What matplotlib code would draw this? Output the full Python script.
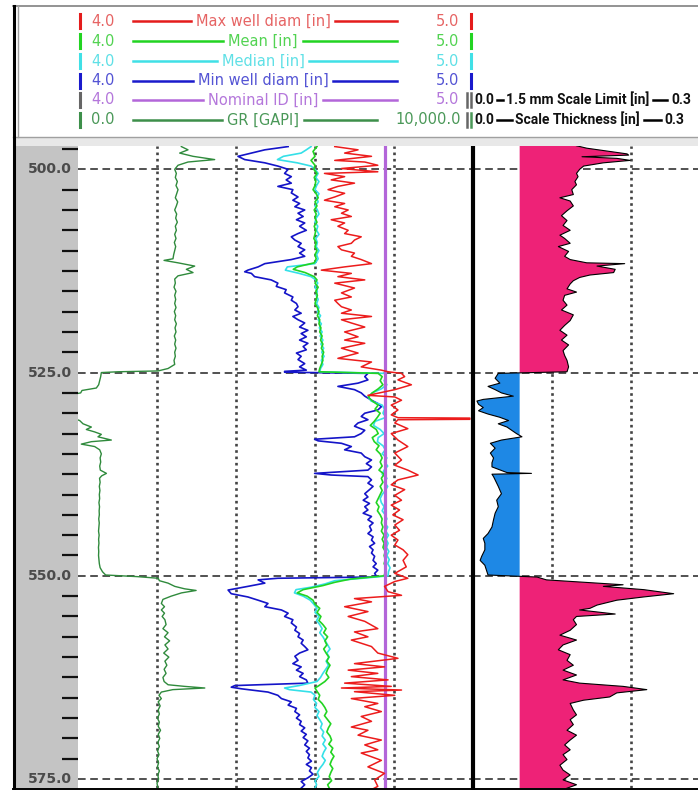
import numpy as np
import matplotlib.pyplot as plt

# ---- curve data (depth, value) ----
max_diam = [(497.2,4.650),(497.6,4.709),(498.0,4.675),(498.4,4.743),(498.9,4.650),(499.1,4.726),(499.5,4.759),(499.9,4.667),
    (500.3,4.759),(500.5,4.624),(500.9,4.675),(501.3,4.641),(501.7,4.700),(502.1,4.658),(502.5,4.633),(502.95,4.675),(503.4,4.650),
    (503.8,4.624),(504.2,4.675),(504.6,4.650),(505.0,4.684),(505.4,4.667),(505.8,4.692),(506.2,4.641),(506.6,4.675),(507.0,4.658),
    (507.5,4.684),(507.9,4.675),(508.3,4.717),(508.7,4.700),(509.1,4.692),(509.5,4.658),(509.9,4.667),(510.3,4.700),(510.7,4.692),
    (511.1,4.717),(511.6,4.743),(512.0,4.675),(512.4,4.616),(512.8,4.692),(513.2,4.658),(513.6,4.726),(514.0,4.650),(514.6,4.700),
    (515.2,4.667),(515.7,4.692),(516.1,4.650),(516.5,4.658),(516.9,4.667),(517.3,4.692),(517.7,4.667),(518.1,4.743),(518.5,4.667),
    (518.9,4.692),(519.4,4.726),(520.0,4.675),(520.6,4.709),(521.0,4.675),(521.4,4.726),(522.0,4.667),(522.6,4.709),(523.25,4.658),
    (523.7,4.743),(524.3,4.717),(524.7,4.768),(524.9,4.785),(525.1,4.819),(525.5,4.827),(525.9,4.810),(526.5,4.844),(527.1,4.802),
    (527.8,4.734),(528.0,4.802),(528.4,4.819),(529.0,4.793),(529.6,4.810),(530.2,4.793),(530.55,4.810),(530.6,4.992),(530.75,4.992),
    (530.8,4.810),(531.2,4.802),(531.9,4.835),(532.5,4.793),(533.3,4.810),(534.1,4.835),(534.9,4.802),(535.75,4.819),(536.4,4.802),
    (537.0,4.835),(537.6,4.861),(538.2,4.810),(538.8,4.793),(539.4,4.827),(540.1,4.802),(540.7,4.819),(541.3,4.793),(541.9,4.814),
    (542.5,4.797),(543.1,4.823),(543.75,4.802),(544.4,4.814),(545.0,4.793),(545.6,4.810),(546.2,4.802),(546.8,4.823),(547.4,4.835),
    (548.1,4.823),(548.9,4.831),(549.7,4.802),(550.3,4.835),(550.7,4.802),(551.3,4.776),(551.95,4.785),(552.4,4.819),(552.8,4.700),
    (553.2,4.743),(553.8,4.675),(554.4,4.734),(555.0,4.684),(555.6,4.726),(556.5,4.759),(556.9,4.700),(557.5,4.734),(557.9,4.692),
    (558.7,4.743),(559.5,4.759),(560.15,4.810),(560.8,4.700),(561.2,4.776),(561.6,4.684),(562.0,4.759),(562.4,4.692),(562.8,4.785),
    (563.2,4.675),(563.6,4.793),(563.8,4.667),(564.05,4.819),(564.25,4.700),(564.7,4.802),(565.1,4.692),(565.7,4.759),(566.1,4.726),
    (566.7,4.768),(567.3,4.717),(567.9,4.743),(568.6,4.692),(569.0,4.734),(569.6,4.709),(570.2,4.768),(570.8,4.726),(571.4,4.759),
    (571.8,4.717),(572.7,4.768),(573.5,4.734),(574.3,4.776),(575.1,4.751),(575.9,4.759),(576.3,4.743)]

mean_diam = [(497.2,4.605),(497.8,4.595),(498.4,4.600),(498.9,4.590),(499.5,4.600),(500.0,4.597),(500.5,4.605),(501.0,4.598),
    (501.5,4.602),(502.0,4.600),(502.5,4.595),(503.0,4.603),(503.5,4.608),(504.0,4.600),(504.5,4.605),(505.0,4.598),(505.5,4.603),
    (506.0,4.600),(506.5,4.605),(507.0,4.598),(507.5,4.602),(508.0,4.600),(508.5,4.597),(509.0,4.603),(509.5,4.600),(510.0,4.605),
    (510.5,4.600),(511.0,4.603),(511.5,4.598),(512.0,4.555),(512.3,4.545),(512.7,4.575),(513.2,4.598),(513.6,4.605),(514.0,4.600),
    (514.5,4.608),(515.0,4.602),(515.5,4.606),(516.0,4.603),(516.5,4.600),(517.0,4.606),(517.5,4.610),(518.0,4.606),(518.5,4.612),
    (519.0,4.610),(519.5,4.615),(520.0,4.612),(520.5,4.618),(521.0,4.614),(521.5,4.620),(522.0,4.616),(522.5,4.622),(523.0,4.618),
    (523.5,4.620),(524.0,4.616),(524.5,4.612),(524.9,4.610),(525.1,4.760),(525.5,4.770),(526.0,4.765),(526.5,4.772),(527.0,4.760),
    (527.5,4.745),(528.0,4.735),(528.5,4.745),(529.0,4.760),(529.5,4.752),(530.0,4.765),(530.5,4.758),(531.0,4.750),(531.5,4.740),
    (532.0,4.755),(532.5,4.760),(533.0,4.745),(533.5,4.750),(534.0,4.762),(534.5,4.755),(535.0,4.765),(535.5,4.770),(536.0,4.765),
    (536.5,4.770),(537.0,4.762),(537.5,4.775),(538.0,4.768),(538.5,4.772),(539.0,4.765),(539.5,4.770),(540.0,4.765),(540.5,4.760),
    (541.0,4.755),(541.5,4.762),(542.0,4.758),(542.5,4.765),(543.0,4.770),(543.5,4.768),(544.0,4.772),(544.5,4.768),(545.0,4.775),
    (545.5,4.770),(546.0,4.775),(546.5,4.772),(547.0,4.778),(547.5,4.775),(548.0,4.778),(548.5,4.775),(549.0,4.780),(549.5,4.778),
    (550.0,4.775),(550.4,4.690),(550.8,4.650),(551.2,4.620),(551.7,4.570),(552.1,4.555),(552.5,4.580),(553.0,4.595),(553.5,4.600),
    (554.0,4.612),(554.5,4.605),(555.0,4.615),(555.5,4.610),(556.0,4.620),(556.5,4.628),(557.0,4.622),(557.5,4.632),(558.0,4.625),
    (558.5,4.630),(559.0,4.622),(559.5,4.628),(560.0,4.635),(560.5,4.630),(561.0,4.638),(561.5,4.632),(562.0,4.628),(562.5,4.635),
    (563.0,4.625),(563.5,4.610),(563.8,4.600),(564.2,4.605),(564.7,4.612),(565.2,4.608),(565.7,4.618),(566.2,4.625),(566.7,4.630),
    (567.2,4.624),(567.7,4.632),(568.2,4.640),(568.7,4.634),(569.2,4.630),(569.7,4.638),(570.2,4.642),(570.7,4.635),(571.2,4.645),
    (571.7,4.640),(572.2,4.648),(572.7,4.642),(573.2,4.638),(573.7,4.645),(574.2,4.640),(574.7,4.636),(575.2,4.642),(575.7,4.632),
    (576.3,4.638)]

median_diam = [(497.2,4.590),(497.6,4.578),(498.0,4.565),(498.4,4.520),(498.8,4.505),(499.2,4.555),(499.6,4.590),(500.0,4.600),
    (500.5,4.608),(501.0,4.602),(501.5,4.610),(502.0,4.604),(502.5,4.600),(503.0,4.610),(503.5,4.604),(504.0,4.608),(504.5,4.600),
    (505.0,4.606),(505.5,4.610),(506.0,4.603),(506.5,4.600),(507.0,4.607),(507.5,4.604),(508.0,4.610),(508.5,4.602),(509.0,4.606),
    (509.5,4.603),(510.0,4.610),(510.5,4.604),(511.0,4.608),(511.6,4.600),(512.0,4.530),(512.4,4.525),(512.8,4.560),(513.2,4.590),
    (513.6,4.602),(514.0,4.607),(514.5,4.600),(515.0,4.606),(515.5,4.603),(516.0,4.608),(516.5,4.604),(517.0,4.610),(517.5,4.606),
    (518.0,4.614),(518.5,4.608),(519.0,4.616),(519.5,4.611),(520.0,4.618),(520.5,4.613),(521.0,4.620),(521.5,4.615),(522.0,4.622),
    (522.5,4.617),(523.0,4.623),(523.5,4.616),(524.0,4.620),(524.5,4.614),(524.9,4.612),(525.1,4.776),(525.5,4.780),(526.0,4.775),
    (526.5,4.782),(527.0,4.768),(527.5,4.745),(528.0,4.735),(528.5,4.742),(529.0,4.770),(529.5,4.776),(530.0,4.772),(530.5,4.780),
    (531.0,4.752),(531.5,4.748),(532.0,4.765),(532.5,4.775),(533.0,4.760),(533.5,4.758),(534.0,4.772),(534.5,4.778),(535.0,4.770),
    (535.5,4.782),(536.0,4.776),(536.5,4.784),(537.0,4.775),(537.5,4.770),(538.0,4.782),(538.5,4.776),(539.0,4.784),(539.5,4.778),
    (540.0,4.770),(540.5,4.765),(541.0,4.768),(541.5,4.775),(542.0,4.770),(542.5,4.778),(543.0,4.782),(543.5,4.776),(544.0,4.784),
    (544.5,4.779),(545.0,4.786),(545.5,4.780),(546.0,4.785),(546.5,4.781),(547.0,4.787),(547.5,4.782),(548.0,4.788),(548.5,4.784),
    (549.0,4.790),(549.5,4.786),(550.0,4.785),(550.3,4.720),(550.6,4.650),(551.0,4.625),(551.4,4.590),(551.7,4.552),(552.1,4.548),
    (552.5,4.570),(553.0,4.588),(553.5,4.597),(554.0,4.605),(554.5,4.600),(555.0,4.610),(555.5,4.604),(556.0,4.612),(556.5,4.618),
    (557.0,4.612),(557.5,4.620),(558.0,4.626),(558.5,4.632),(559.0,4.638),(559.5,4.630),(560.0,4.636),(560.5,4.628),(561.0,4.634),
    (561.5,4.627),(562.0,4.620),(562.5,4.614),(563.0,4.605),(563.5,4.560),(563.8,4.523),(564.0,4.535),(564.3,4.590),(564.7,4.600),
    (565.2,4.596),(565.7,4.604),(566.2,4.600),(566.7,4.610),(567.2,4.605),(567.7,4.612),(568.2,4.618),(568.7,4.614),(569.2,4.622),
    (569.7,4.618),(570.2,4.626),(570.7,4.620),(571.2,4.628),(571.7,4.622),(572.2,4.618),(572.7,4.626),(573.2,4.620),(573.7,4.612),
    (574.2,4.606),(574.7,4.610),(575.2,4.600),(575.7,4.604),(576.3,4.598)]

min_diam = [(497.2,4.532),(497.6,4.473),(498.0,4.439),(498.4,4.405),(498.8,4.422),(499.2,4.473),(499.6,4.506),(500.0,4.532),
    (500.5,4.523),(500.9,4.540),(501.3,4.527),(501.7,4.540),(502.1,4.506),(502.5,4.544),(502.9,4.540),(503.4,4.557),(503.8,4.544),
    (504.2,4.561),(504.6,4.549),(505.0,4.574),(505.4,4.557),(505.8,4.570),(506.2,4.553),(506.6,4.574),(507.0,4.561),(507.5,4.578),
    (507.9,4.557),(508.3,4.540),(508.7,4.549),(509.1,4.565),(509.5,4.557),(509.9,4.574),(510.3,4.561),(510.7,4.574),(511.1,4.540),
    (511.6,4.473),(512.0,4.456),(512.4,4.430),(512.6,4.422),(512.8,4.439),(513.2,4.447),(513.6,4.489),(514.0,4.506),(514.4,4.502),
    (514.8,4.527),(515.2,4.523),(515.7,4.544),(516.1,4.540),(516.5,4.553),(516.9,4.557),(517.3,4.549),(517.7,4.565),(518.1,4.544),
    (518.5,4.557),(518.9,4.574),(519.4,4.561),(519.8,4.582),(520.2,4.565),(520.6,4.578),(521.0,4.561),(521.4,4.582),(521.8,4.570),
    (522.2,4.578),(522.6,4.553),(523.0,4.565),(523.4,4.557),(523.9,4.574),(524.3,4.561),(524.7,4.578),(524.85,4.523),(524.95,4.523),
    (525.1,4.734),(525.5,4.726),(525.9,4.734),(526.3,4.709),(526.7,4.658),(527.1,4.700),(527.5,4.717),(527.9,4.726),(528.4,4.743),
    (528.8,4.759),(529.2,4.768),(529.6,4.759),(530.0,4.726),(530.4,4.717),(530.8,4.734),(531.2,4.709),(531.6,4.700),(532.1,4.726),
    (532.5,4.717),(532.9,4.700),(533.2,4.599),(533.4,4.608),(533.7,4.667),(534.1,4.692),(534.5,4.675),(534.9,4.717),(535.35,4.726),
    (535.75,4.743),(536.2,4.730),(536.6,4.743),(537.0,4.734),(537.4,4.599),(537.6,4.641),(537.8,4.734),(538.2,4.743),(538.6,4.734),
    (539.0,4.747),(539.4,4.738),(539.9,4.726),(540.3,4.734),(540.7,4.722),(541.1,4.738),(541.5,4.726),(541.9,4.734),(542.3,4.722),
    (542.7,4.743),(543.1,4.734),(543.5,4.747),(543.9,4.738),(544.4,4.743),(544.8,4.734),(545.2,4.747),(545.6,4.743),(546.0,4.751),
    (546.4,4.738),(546.8,4.747),(547.2,4.743),(547.6,4.751),(548.1,4.747),(548.5,4.755),(548.9,4.747),(549.3,4.759),(549.7,4.751),
    (550.0,4.755),(550.15,4.743),(550.3,4.506),(550.5,4.456),(550.9,4.473),(551.3,4.430),(551.75,4.380),(552.2,4.388),(552.6,4.430),
    (553.0,4.456),(553.4,4.481),(553.8,4.473),(554.2,4.515),(554.6,4.532),(555.0,4.523),(555.4,4.544),(555.8,4.540),(556.3,4.553),
    (556.7,4.549),(557.1,4.561),(557.5,4.557),(557.9,4.570),(558.3,4.565),(558.7,4.574),(559.1,4.582),(559.5,4.561),(559.9,4.549),
    (560.4,4.557),(560.8,4.544),(561.2,4.565),(561.6,4.553),(562.0,4.570),(562.4,4.561),(562.8,4.578),(563.2,4.582),(563.5,4.397),
    (563.7,4.388),(563.9,4.414),(564.3,4.481),(564.7,4.506),(565.1,4.515),(565.5,4.540),(565.9,4.532),(566.3,4.553),(566.7,4.549),
    (567.1,4.561),(567.5,4.553),(567.9,4.565),(568.3,4.561),(568.7,4.574),(569.1,4.565),(569.5,4.578),(569.9,4.570),(570.3,4.582),
    (570.8,4.574),(571.2,4.586),(571.6,4.578),(572.0,4.586),(572.4,4.582),(572.8,4.591),(573.2,4.578),(573.6,4.591),(574.0,4.586),
    (574.4,4.595),(574.85,4.582),(575.3,4.565),(575.7,4.574),(576.3,4.561)]

gr = [(497.2,2616),(497.6,2785),(498.0,2574),(498.4,2912),(498.8,3460),(499.1,2785),(499.5,2532),(500.0,2448),(500.5,2490),
    (501.0,2464),(501.5,2515),(502.0,2481),(502.5,2532),(503.0,2498),(503.5,2464),(504.0,2524),(504.5,2490),(505.0,2448),(505.5,2498),
    (506.0,2473),(506.5,2515),(507.0,2464),(507.5,2490),(508.0,2448),(508.5,2481),(509.0,2439),(509.5,2473),(510.0,2448),(510.5,2422),
    (511.0,2405),(511.2,2178),(511.5,2532),(511.9,2954),(512.3,2743),(512.7,2912),(513.1,2532),(513.5,2448),(514.0,2464),(514.5,2431),
    (515.0,2481),(515.5,2448),(516.0,2473),(516.5,2448),(517.0,2481),(517.5,2439),(518.0,2473),(518.5,2448),(519.0,2490),(519.5,2456),
    (520.0,2481),(520.5,2439),(521.0,2473),(521.5,2448),(522.0,2481),(522.5,2448),(523.0,2464),(523.5,2431),(524.0,2448),(524.5,2279),
    (524.8,2026),(524.9,1013),(525.0,591),(525.5,574),(526.0,549),(526.5,523),(526.9,464),(527.2,101),(527.5,68),(527.8,-250),
    (528.5,-300),(529.5,-300),(530.4,-250),(530.9,42),(531.3,127),(531.7,338),(532.0,211),(532.3,422),(532.6,591),(532.9,506),
    (533.3,844),(533.5,338),(533.8,84),(534.1,422),(534.5,549),(535.0,591),(535.5,560),(536.0,575),(536.5,550),(537.0,565),
    (537.4,720),(537.7,600),(538.0,545),(538.5,560),(539.0,540),(539.5,555),(540.0,540),(540.5,548),(541.0,530),(541.5,545),
    (542.0,535),(542.5,540),(543.0,525),(543.5,538),(544.0,530),(544.5,520),(545.0,535),(545.5,522),(546.0,530),(546.5,518),
    (547.0,525),(547.5,520),(548.0,530),(548.5,540),(549.0,560),(549.5,620),(549.9,700),(550.1,1500),(550.3,2030),(550.6,2060),
    (550.9,2280),(551.3,2450),(551.6,2700),(551.8,2990),(552.1,2620),(552.5,2360),(552.9,2150),(553.4,2110),(553.8,2190),(554.2,2110),
    (554.6,2190),(555.0,2130),(555.4,2200),(556.0,2230),(556.5,2150),(557.0,2280),(557.5,2190),(558.0,2320),(558.5,2200),(559.0,2280),
    (559.5,2170),(560.0,2300),(560.5,2200),(561.0,2250),(561.5,2180),(562.0,2230),(562.5,2150),(563.0,2180),(563.4,2280),(563.6,2700),
    (563.8,3210),(564.0,2400),(564.3,2110),(564.7,2050),(565.1,2110),(565.5,2030),(566.0,2080),(566.5,2030),(567.0,2060),(567.5,2010),
    (568.0,2060),(568.5,2030),(569.0,2090),(569.5,2030),(570.0,2070),(570.5,2020),(571.0,2060),(571.5,2010),(572.0,2050),(572.5,2000),
    (573.0,2040),(573.5,2010),(574.0,2060),(574.5,2020),(575.0,2040),(575.5,2000),(576.3,2030)]

thickness = [(497.1,0.131),(497.4,0.144),(497.8,0.173),(498.1,0.195),(498.25,0.197),(498.45,0.138),(498.65,0.182),(498.9,0.199),
    (499.2,0.165),(499.6,0.140),(500.0,0.135),(500.5,0.131),(500.9,0.133),(501.5,0.129),(501.9,0.131),(502.5,0.125),(503.1,0.127),
    (503.5,0.110),(503.9,0.123),(504.5,0.127),(505.1,0.119),(505.7,0.112),(506.3,0.119),(506.9,0.114),(507.5,0.123),(508.1,0.110),
    (508.5,0.116),(509.1,0.123),(509.5,0.108),(510.1,0.121),(510.7,0.116),(511.1,0.123),(511.5,0.144),(511.6,0.192),(511.9,0.157),
    (512.3,0.180),(512.7,0.178),(513.0,0.148),(513.3,0.135),(513.7,0.127),(514.1,0.123),(514.7,0.119),(515.1,0.131),(515.5,0.116),
    (516.1,0.114),(516.7,0.119),(517.3,0.112),(517.9,0.127),(518.6,0.123),(519.2,0.116),(519.8,0.110),(520.4,0.119),(521.0,0.112),
    (521.6,0.121),(522.3,0.114),(522.9,0.116),(523.5,0.119),(524.3,0.121),(524.9,0.119),(525.1,0.032),(525.7,0.028),(526.3,0.034),
    (526.7,0.019),(527.1,0.028),(527.5,0.036),(527.9,0.051),(528.3,0.013),(528.5,0.005),(528.9,0.007),(529.3,0.013),(529.7,0.007),
    (530.1,0.019),(530.5,0.034),(530.9,0.045),(531.3,0.032),(531.7,0.043),(532.1,0.049),(532.5,0.055),(532.9,0.062),(533.3,0.036),
    (533.7,0.022),(534.3,0.028),(534.9,0.022),(535.5,0.026),(536.1,0.024),(536.6,0.024),(537.3,0.043),(537.4,0.074),(537.5,0.024),
    (537.8,0.026),(538.2,0.028),(539.0,0.032),(539.9,0.036),(540.7,0.030),(541.5,0.032),(542.3,0.028),(543.1,0.026),(544.0,0.024),
    (544.8,0.019),(545.4,0.013),(546.0,0.015),(546.8,0.015),(547.6,0.011),(548.1,0.009),(548.7,0.015),(549.3,0.017),(549.9,0.019),
    (550.15,0.081),(550.5,0.093),(550.9,0.157),(551.1,0.190),(551.3,0.165),(551.7,0.216),(552.2,0.254),(552.6,0.216),(553.0,0.182),
    (553.6,0.157),(554.0,0.148),(554.2,0.135),(554.7,0.180),(555.0,0.131),(555.4,0.127),(556.0,0.131),(556.7,0.123),(557.3,0.110),
    (557.9,0.131),(558.5,0.114),(559.1,0.108),(559.7,0.123),(560.4,0.119),(561.0,0.127),(561.6,0.114),(562.2,0.131),(562.8,0.114),
    (563.2,0.135),(563.6,0.190),(564.0,0.220),(564.4,0.182),(564.9,0.173),(565.3,0.140),(565.7,0.123),(566.5,0.127),(567.1,0.131),
    (567.7,0.123),(568.3,0.127),(569.0,0.119),(569.6,0.131),(570.2,0.123),(570.8,0.116),(571.4,0.123),(572.0,0.114),(572.6,0.119),
    (573.3,0.110),(573.9,0.114),(574.5,0.123),(575.1,0.114),(575.7,0.131),(576.3,0.114)]

nominal_id = 4.778            # in
scale_limit = 1.5 / 25.4      # 1.5 mm in inches

label_depths = [500.0, 525.0, 550.0, 575.0]

# header legend texts
names = ['Max well diam [in]', 'Mean [in]', 'Median [in]', 'Min well diam [in]', 'Nominal ID [in]', 'GR [GAPI]']
left_vals = ['4.0', '4.0', '4.0', '4.0', '4.0', '0.0']
right_vals = ['5.0', '5.0', '5.0', '5.0', '5.0', '10,000.0']
line_cols = ['#e41c1c', '#22d422', '#40e0e6', '#1a1acc', '#b366d9', '#3d8f4a']
text_cols = ['#e66464', '#52d352', '#5fe0e6', '#5454d4', '#b477db', '#4a9858']
t2_names = ['1.5 mm Scale Limit [in]', 'Scale Thickness [in]']
t2_left = ['0.0', '0.0']
t2_right = ['0.3', '0.3']

W, H = 698, 790
top_d, bot_d = 497.13, 576.1

fig = plt.figure(figsize=(W / 100, H / 100), dpi=100)


def px_axes(x0, y0, x1, y1):
    return fig.add_axes([x0 / W, 1 - y1 / H, (x1 - x0) / W, (y1 - y0) / H])


def unpack(pairs):
    a = np.array(pairs, dtype=float)
    return a[:, 0], a[:, 1]


dash = (0, (5, 3))
dots = (0, (1, 1.4))

# depth column
axd = px_axes(14, 146, 78, 788)
axd.set_facecolor('#c4c4c4')
axd.set_xlim(0, 1)
axd.set_ylim(bot_d, top_d)
minor = [d for d in np.arange(497.5, 576, 2.5) if d % 25]
axd.set_yticks(minor)
axd.set_xticks([])
axd.tick_params(axis='y', left=False, right=True, direction='in', length=11.5, width=1.6,
                color='#111111', labelleft=False)
for s in axd.spines.values():
    s.set_visible(False)
for d in label_depths:
    axd.text(0.91, d, f'{d:.1f}', ha='right', va='center', fontsize=10, fontweight='bold',
             color='#4b4b4b')

# track 1 - diameters
ax1 = px_axes(78, 146, 473, 788)
ax1.set_xlim(4.0, 5.0)
ax1.set_ylim(bot_d, top_d)
ax1.set_xticks([])
ax1.set_yticks([])
for s in ax1.spines.values():
    s.set_visible(False)
for x in [4.2, 4.4, 4.6, 4.8]:
    ax1.axvline(x, color='#444444', lw=1.9, ls=dots, zorder=1)
for d in label_depths:
    ax1.axhline(d, color='#222222', lw=1.1, ls=dash, zorder=1)

d, v = unpack(min_diam)
ax1.plot(v, d, color='#1414c8', lw=1.2, zorder=3)
d, v = unpack(median_diam)
ax1.plot(v, d, color='#35e0e8', lw=1.2, zorder=3)
d, v = unpack(mean_diam)
ax1.plot(v, d, color='#22d422', lw=1.2, zorder=3)
ax1.axvline(nominal_id, color='#b366d9', lw=2.3, zorder=4)
d, v = unpack(max_diam)
ax1.plot(v, d, color='#ec1c1c', lw=1.1, zorder=5)

axg = ax1.twiny()
axg.set_xlim(0, 10000)
axg.axis('off')
d, v = unpack(gr)
axg.plot(v, d, color='#2f8a3c', lw=1.0)

# track 2 - scale thickness (runs past the right edge of the picture)
ax2 = px_axes(473, 146, 710, 788)
ax2.set_xlim(0, 0.3)
ax2.set_ylim(bot_d, top_d)
ax2.set_xticks([])
ax2.set_yticks([])
for k, s in ax2.spines.items():
    s.set_visible(k == 'left')
ax2.spines['left'].set_linewidth(3.0)
ax2.spines['left'].set_color('black')
ax2.spines['left'].set_zorder(6)
for x in [0.1, 0.2]:
    ax2.axvline(x, color='#444444', lw=1.9, ls=dots, zorder=1)
for dd in label_depths:
    ax2.axhline(dd, color='#222222', lw=1.1, ls=dash, zorder=1)
d, v = unpack(thickness)
ax2.fill_betweenx(d, scale_limit, v, where=v >= scale_limit, interpolate=True,
                  color='#ee2277', lw=0, zorder=2)
ax2.fill_betweenx(d, scale_limit, v, where=v <= scale_limit, interpolate=True,
                  color='#1e88e5', lw=0, zorder=2)
ax2.plot(v, d, color='black', lw=0.8, zorder=3)

# overlay: header box and frame, in pixel units
axo = fig.add_axes([0, 0, 1, 1])
axo.set_xlim(0, W)
axo.set_ylim(H, 0)
axo.axis('off')
axo.set_zorder(10)
axo.add_patch(plt.Rectangle((14, 137), W - 14, 9, color='#e8e8e8', lw=0))
axo.plot([13, W], [6, 6], color='#808080', lw=1.2)
axo.plot([13, W], [137, 137], color='#a0a0a0', lw=1.0)
axo.plot([17.5, 17.5], [6, 137], color='#a0a0a0', lw=1.0)
axo.plot([13.5, 13.5], [6, 789], color='black', lw=2.2)
axo.plot([13, W], [788.5, 788.5], color='black', lw=1.4)

renderer = fig.canvas.get_renderer()
row_y = [21, 41, 61, 80.5, 100, 120]
for i, name in enumerate(names):
    y = row_y[i]
    lc, tc = line_cols[i], text_cols[i]
    lbar = '#666666' if i == 4 else lc
    axo.plot([80, 80], [y - 7, y + 7], color=lbar, lw=2.2)
    axo.text(91, y, left_vals[i], ha='left', va='center', fontsize=10.5, color=tc)
    t = axo.text(263, y, name, ha='center', va='center', fontsize=10.5, color=tc)
    bb = t.get_window_extent(renderer)
    end = 377 if i == 5 else 397
    axo.plot([133, bb.x0 - 5], [y, y], color=lc, lw=1.8)
    axo.plot([bb.x1 + 5, end], [y, y], color=lc, lw=1.8)
    axo.text(461 if i == 5 else 459, y, right_vals[i], ha='right', va='center', fontsize=10.5, color=tc)
    if i < 4:
        axo.plot([471, 471], [y - 7, y + 7], color=lc, lw=2.2)
    else:
        axo.plot([467, 467], [y - 7, y + 7], color='#666666', lw=1.8)
        axo.plot([471, 471], [y - 7, y + 7], color='#666666' if i == 4 else '#4a9858', lw=1.8)

# track 2 header rows
t2font = dict(ha='left', va='center', fontsize=10, fontweight='bold', family='Roboto', color='#111111')
for j in range(2):
    y = row_y[4 + j]
    t = axo.text(474, y, t2_left[j], **t2font)
    x = t.get_window_extent(renderer).x1
    seg = 6 if j == 0 else 15
    axo.plot([x + 3, x + 3 + seg], [y, y], color='black', lw=1.8)
    t = axo.text(x + 6 + seg, y, t2_names[j], **t2font)
    x = t.get_window_extent(renderer).x1
    seg2 = 14 if j == 0 else 17
    axo.plot([x + 4, x + 4 + seg2], [y, y], color='black', lw=1.8)
    axo.text(x + 8 + seg2, y, t2_right[j], **t2font)

fig.savefig('out.png', dpi=100)
